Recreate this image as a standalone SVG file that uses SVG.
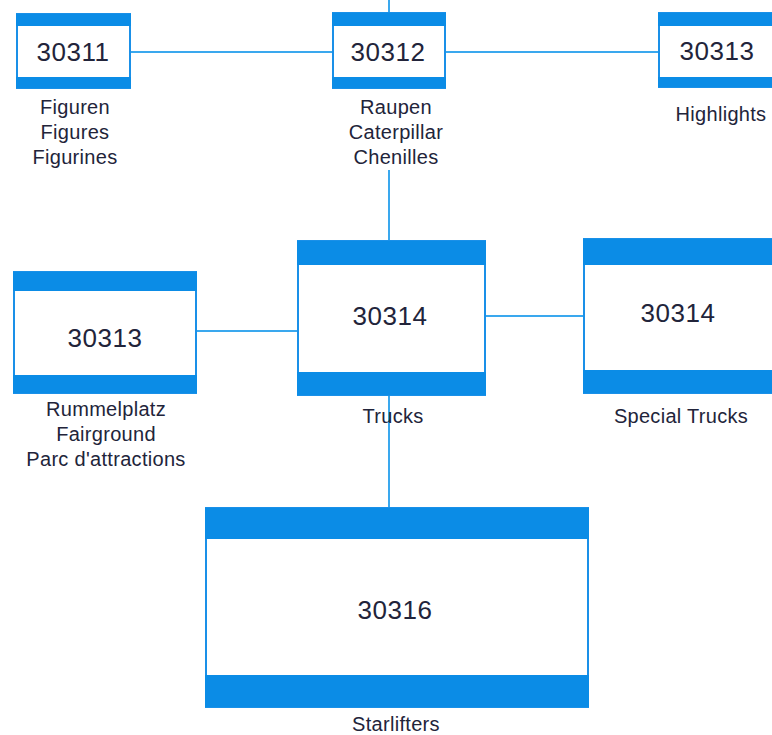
<svg xmlns="http://www.w3.org/2000/svg" width="772" height="735" viewBox="0 0 772 735">
<style>
.box{fill:#ffffff;stroke:#1a90e8;stroke-width:2}
.bar{fill:#0b8ce6}
.num{font-family:"Liberation Sans",Arial,sans-serif;font-size:26px;fill:#22243a;text-anchor:middle;letter-spacing:0.5px}
.lbl{font-family:"Liberation Sans",Arial,sans-serif;font-size:20px;fill:#22243a;text-anchor:middle;letter-spacing:0.3px}
.con{stroke:#3aa8ee;stroke-width:2;fill:none}
</style>
<rect width="772" height="735" fill="#ffffff"/>
<g id="connectors">
<line class="con" x1="389" y1="0" x2="389" y2="13"/>
<line class="con" x1="130" y1="52" x2="332" y2="52"/>
<line class="con" x1="446" y1="52" x2="658" y2="52"/>
<line class="con" x1="389" y1="170" x2="389" y2="241"/>
<line class="con" x1="197" y1="331" x2="297" y2="331"/>
<line class="con" x1="486" y1="316" x2="583" y2="316"/>
<line class="con" x1="389" y1="395" x2="389" y2="508"/>
</g>
<g id="n30311">
<rect class="box" x="17" y="14" width="113" height="74"/>
<rect class="bar" x="16" y="14" width="115" height="12"/>
<rect class="bar" x="16" y="77" width="115" height="11"/>
<text class="num" x="73" y="61">30311</text>
<text class="lbl" x="75" y="114">Figuren</text>
<text class="lbl" x="75" y="139">Figures</text>
<text class="lbl" x="75" y="164">Figurines</text>
</g>
<g id="n30312">
<rect class="box" x="333" y="13" width="112" height="75"/>
<rect class="bar" x="332" y="13" width="114" height="13"/>
<rect class="bar" x="332" y="77" width="114" height="11"/>
<text class="num" x="388" y="61">30312</text>
<text class="lbl" x="396" y="114">Raupen</text>
<text class="lbl" x="396" y="139">Caterpillar</text>
<text class="lbl" x="396" y="164">Chenilles</text>
</g>
<g id="n30313a">
<rect class="box" x="659" y="13" width="120" height="74"/>
<rect class="bar" x="658" y="13" width="120" height="13"/>
<rect class="bar" x="658" y="77" width="120" height="10"/>
<text class="num" x="717" y="60">30313</text>
<text class="lbl" x="721" y="121">Highlights</text>
</g>
<g id="n30313b">
<rect class="box" x="14" y="272" width="182" height="121"/>
<rect class="bar" x="13" y="272" width="184" height="19"/>
<rect class="bar" x="13" y="375" width="184" height="18"/>
<text class="num" x="105" y="347">30313</text>
<text class="lbl" x="106" y="416">Rummelplatz</text>
<text class="lbl" x="106" y="441">Fairground</text>
<text class="lbl" x="106" y="466">Parc d'attractions</text>
</g>
<g id="n30314">
<rect class="box" x="298" y="241" width="187" height="154"/>
<rect class="bar" x="297" y="241" width="189" height="24"/>
<rect class="bar" x="297" y="372" width="189" height="23"/>
<text class="num" x="390" y="325">30314</text>
<text class="lbl" x="393" y="423">Trucks</text>
</g>
<g id="n30314s">
<rect class="box" x="584" y="239" width="200" height="154"/>
<rect class="bar" x="583" y="239" width="189" height="26"/>
<rect class="bar" x="583" y="370" width="189" height="23"/>
<text class="num" x="678" y="322">30314</text>
<text class="lbl" x="681" y="423">Special Trucks</text>
</g>
<g id="n30316">
<rect class="box" x="206" y="508" width="382" height="199"/>
<rect class="bar" x="205" y="508" width="384" height="31"/>
<rect class="bar" x="205" y="675" width="384" height="32"/>
<text class="num" x="395" y="619">30316</text>
<text class="lbl" x="396" y="731">Starlifters</text>
</g>
</svg>
